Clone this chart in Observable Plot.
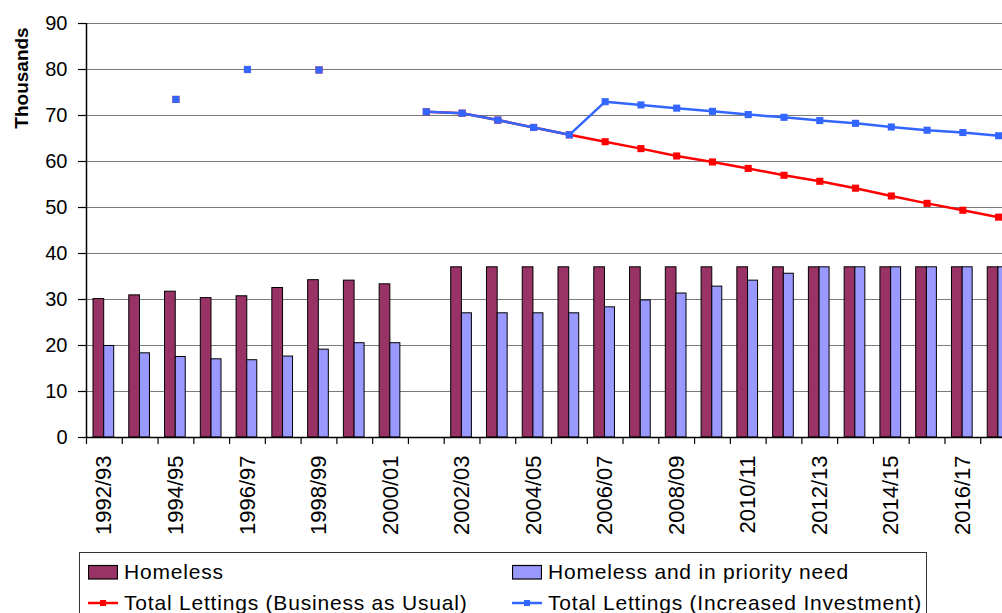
<!DOCTYPE html>
<html>
<head>
<meta charset="utf-8">
<script src="https://cdn.jsdelivr.net/npm/d3@7"></script>
<script src="https://cdn.jsdelivr.net/npm/@observablehq/plot@0.6"></script>
<style>
  html, body { margin: 0; padding: 0; background: #fff; overflow: hidden; }
  #wrap { position: relative; width: 1002px; height: 613px; overflow: hidden; font-family: "Liberation Sans", Arial, sans-serif; }
  #chart { position: absolute; left: 0; top: 0; }
  #chart svg { max-width: none; }
  #ytitle { position: absolute; left: 22px; top: 78px; transform: translate(-50%, -50%) rotate(-90deg); font-weight: bold; font-size: 19px; white-space: nowrap; color: #000; }
  #legend { position: absolute; left: 79px; top: 552px; width: 848px; height: 90px; border: 1px solid #333; box-sizing: border-box; background: #fff; }
  .item { position: absolute; display: flex; align-items: center; font-size: 21px; letter-spacing: 0.8px; line-height: 24px; color: #000; white-space: nowrap; }
  .item svg { margin-right: 6px; }
</style>
</head>
<body>
<div id="wrap">
  <div id="chart"></div>
  <div id="ytitle">Thousands</div>
  <div id="legend"></div>
</div>
<script>
// Financial years on the category axis
const years = [
  "1992/93", "1993/94", "1994/95", "1995/96", "1996/97", "1997/98", "1998/99",
  "1999/00", "2000/01", "2001/02", "2002/03", "2003/04", "2004/05", "2005/06",
  "2006/07", "2007/08", "2008/09", "2009/10", "2010/11", "2011/12", "2012/13",
  "2013/14", "2014/15", "2015/16", "2016/17", "2017/18"
];

// Thousands of households (null = no figure for that year)
const homeless = [
  30.1, 30.9, 31.7, 30.3, 30.7, 32.5, 34.2, 34.1, 33.3, null,
  37, 37, 37, 37, 37, 37, 37, 37, 37, 37, 37, 37, 37, 37, 37, 37
];
const priorityNeed = [
  19.9, 18.3, 17.5, 17.0, 16.8, 17.6, 19.1, 20.5, 20.5, null,
  27.0, 27.0, 27.0, 27.0, 28.3, 29.8, 31.3, 32.8, 34.1, 35.6, 37, 37, 37, 37, 37, 37
];

// Total lettings, thousands
const businessAsUsual = [
  null, null, 73.5, null, 80.0, null, 79.9, null, null, 70.8,
  70.5, 69.0, 67.4, 65.8, 64.3, 62.8, 61.2, 59.9, 58.5, 57.0,
  55.7, 54.2, 52.5, 50.9, 49.4, 47.9
];
const increasedInvestment = [
  null, null, 73.5, null, 80.0, null, 79.9, null, null, 70.8,
  70.5, 69.0, 67.4, 65.8, 73.0, 72.3, 71.6, 70.9, 70.2, 69.6,
  68.9, 68.3, 67.5, 66.8, 66.3, 65.6
];

// Axis ticks
const yTicks = [0, 10, 20, 30, 40, 50, 60, 70, 80, 90];
const yearLabels = years.filter((d, i) => i % 2 === 0);

// Series names and colours
const seriesNames = [
  "Homeless",
  "Homeless and in priority need",
  "Total Lettings (Business as Usual)",
  "Total Lettings (Increased Investment)"
];
const colors = ["#993366", "#9999FF", "#FF0000", "#3366FF"];

const rows = years.map((year, i) => ({
  year,
  homeless: homeless[i],
  priority: priorityNeed[i],
  bau: businessAsUsual[i],
  inv: increasedInvestment[i]
}));

const W = 1020, H = 545, ML = 86, MR = 4, MT = 23, MB = 108;
const bw = (W - ML - MR) / years.length;

const chart = Plot.plot({
  width: W,
  height: H,
  marginTop: MT,
  marginBottom: MB,
  marginLeft: ML,
  marginRight: MR,
  style: { fontFamily: "'Liberation Sans', Arial, sans-serif", background: "transparent", color: "#000", maxWidth: "none" },
  x: { type: "band", domain: years, padding: 0, round: false, label: null, axis: null },
  y: { domain: [0, 90], label: null, axis: null },
  marks: [
    // horizontal gridlines
    Plot.ruleY(yTicks.filter(d => d > 0), { stroke: "#7a7a7a", strokeWidth: 1.2 }),
    // bars
    Plot.barY(rows.filter(d => d.homeless != null), {
      x: "year", y: "homeless", fill: colors[0], stroke: "#000", strokeWidth: 1,
      insetLeft: 7, insetRight: bw - 17.7
    }),
    Plot.barY(rows.filter(d => d.priority != null), {
      x: "year", y: "priority", fill: colors[1], stroke: "#000", strokeWidth: 1,
      insetLeft: 17.7, insetRight: bw - 27.7
    }),
    // lettings lines
    Plot.line(rows, { x: "year", y: "bau", stroke: colors[2], strokeWidth: 2.5 }),
    Plot.dot(rows.filter(d => d.bau != null), { x: "year", y: "bau", symbol: "square", r: 4, fill: colors[2], stroke: "none" }),
    Plot.line(rows, { x: "year", y: "inv", stroke: colors[3], strokeWidth: 2.5 }),
    Plot.dot(rows.filter(d => d.inv != null), { x: "year", y: "inv", symbol: "square", r: 4, fill: colors[3], stroke: "none" }),
    // axis lines
    Plot.ruleY([0], { stroke: "#000", strokeWidth: 1.5 }),
    Plot.ruleX([years[0]], { dx: -bw / 2, stroke: "#000", strokeWidth: 1.5 }),
    // x ticks between categories
    Plot.ruleX(years, { dx: -bw / 2, stroke: "#000", strokeWidth: 1.2, insetTop: H - MT - MB, insetBottom: -7 }),
    // y axis
    Plot.axisY({ ticks: yTicks, tickSize: 8, tickPadding: 11, fontSize: 20, label: null, strokeWidth: 1.2 }),
    // x labels
    Plot.axisX({ ticks: yearLabels, tickSize: 0, tickPadding: 18, tickRotate: -90, fontSize: 22, label: null })
  ]
});
document.getElementById("chart").appendChild(chart);

// legend
const legend = document.getElementById("legend");
const positions = [[8, 7], [432, 7], [8, 38], [432, 38]];
seriesNames.forEach((name, i) => {
  const item = document.createElement("div");
  item.className = "item";
  item.style.left = positions[i][0] + "px";
  item.style.top = positions[i][1] + "px";
  const sym = i < 2
    ? `<svg width="30" height="16"><rect x="0.5" y="1.5" width="29" height="13.5" fill="${colors[i]}" stroke="#000" stroke-width="1.2"/></svg>`
    : `<svg width="30" height="16"><line x1="0" x2="30" y1="8" y2="8" stroke="${colors[i]}" stroke-width="2.5"/><rect x="12" y="5" width="6" height="6" fill="${colors[i]}"/></svg>`;
  item.innerHTML = sym + `<span>${name}</span>`;
  legend.appendChild(item);
});
</script>
</body>
</html>
